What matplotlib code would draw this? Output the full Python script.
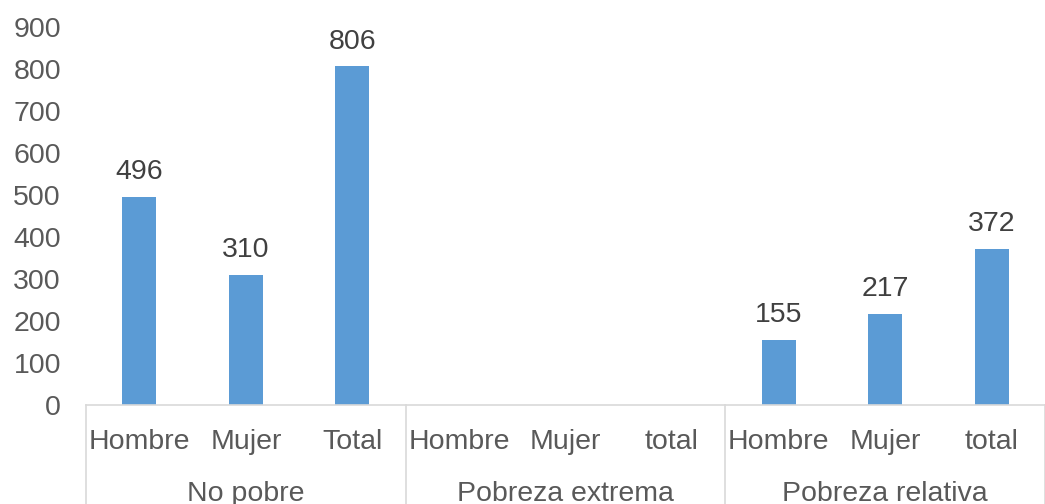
import numpy as np
import matplotlib.pyplot as plt
from matplotlib import transforms

plt.rcParams['font.family'] = ['Liberation Sans', 'DejaVu Sans']

# ---- Data ----
groups = ['No pobre', 'Pobreza extrema', 'Pobreza relativa']
sub_labels = ['Hombre', 'Mujer', 'Total',
              'Hombre', 'Mujer', 'total',
              'Hombre', 'Mujer', 'total']
values = [496, 310, 806,
          np.nan, np.nan, np.nan,
          155, 217, 372]
yticks = [0, 100, 200, 300, 400, 500, 600, 700, 800, 900]

bar_color = '#5B9BD5'
text_grey = '#595959'
line_grey = '#D9D9D9'

# ---- Plotting ----
fig = plt.figure(figsize=(10.45, 5.04), dpi=100)
ax = fig.add_axes([86 / 1045, 99 / 504, 959 / 1045, 378 / 504])

x = np.arange(len(values))
vals = np.array(values, dtype=float)
ax.bar(x, np.nan_to_num(vals), width=0.32, color=bar_color, zorder=2)

for xi, v in zip(x, vals):
    if np.isnan(v):
        continue
    ax.annotate(f'{int(v)}', (xi, v), xytext=(0, 8.5), textcoords='offset points',
                ha='center', va='bottom', fontsize=20.5, color='#404040')

ax.set_xlim(-0.5, len(values) - 0.5)
ax.set_ylim(0, 900)
ax.set_yticks(yticks)
ax.set_xticks(x)
ax.set_xticklabels(sub_labels)
ax.tick_params(axis='y', length=0, pad=18, labelsize=20.5, labelcolor=text_grey)
ax.tick_params(axis='x', length=0, pad=17.5, labelsize=20.5, labelcolor=text_grey)

for s in ['top', 'right', 'left']:
    ax.spines[s].set_visible(False)
ax.spines['bottom'].set_color(line_grey)
ax.spines['bottom'].set_linewidth(1.2)

# group separators and labels below axis
trans = transforms.blended_transform_factory(ax.transData, ax.transAxes)
for b in [-0.5, 2.5, 5.5, 8.5]:
    ax.plot([b, b], [0, -0.27], transform=trans, color=line_grey, lw=1.2, clip_on=False)
for i, g in enumerate(groups):
    ax.text(3 * i + 1, -0.235, g, transform=trans, ha='center', va='center',
            fontsize=20.5, color=text_grey)

plt.savefig('out.png', dpi=100)
